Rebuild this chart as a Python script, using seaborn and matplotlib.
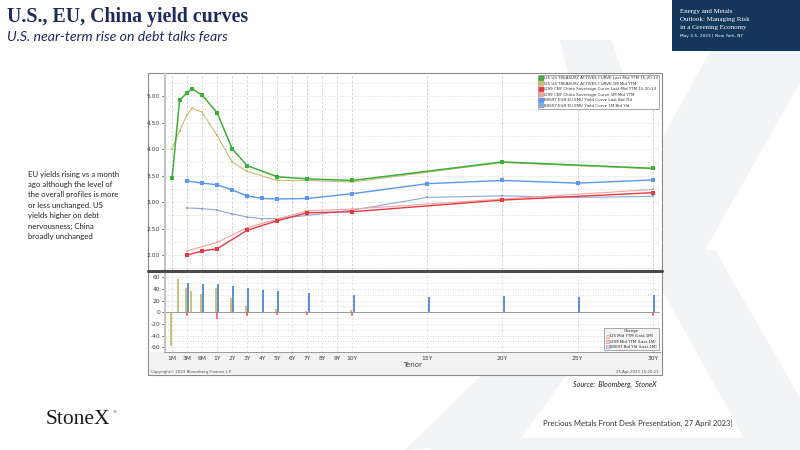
import numpy as np
import pandas as pd
import matplotlib
matplotlib.use("Agg")
import matplotlib.pyplot as plt
import matplotlib.transforms as mtransforms
from matplotlib.patches import Rectangle, Polygon
from matplotlib.lines import Line2D
import seaborn as sns

# ---------------- data ----------------
tenor_labels = ["1M", "3M", "6M", "1Y", "2Y", "3Y", "4Y", "5Y", "6Y", "7Y", "8Y",
                "9Y", "10Y", "15Y", "20Y", "25Y", "30Y"]
tenor_ticks = [1/12, 0.25, 0.5, 1, 2, 3, 4, 5, 6, 7, 8, 9, 10, 15, 20, 25, 30]

us_tenors = [1/12, 2/12, 3/12, 4/12, 0.5, 1, 2, 3, 5, 7, 10, 20, 30]
us_last = [3.45, 4.92, 5.07, 5.14, 5.02, 4.69, 4.01, 3.69, 3.48, 3.44, 3.41, 3.76, 3.64]
us_1m = [4.01, 4.35, 4.65, 4.77, 4.70, 4.26, 3.76, 3.58, 3.41, 3.41, 3.38, 3.75, 3.63]

cn_last_tenors = [0.25, 0.5, 1, 3, 5, 7, 10, 20, 30]
cn_last = [2.00, 2.08, 2.12, 2.47, 2.65, 2.80, 2.82, 3.04, 3.18]
cn_1m_tenors = [0.25, 1, 3, 5, 7, 10, 20, 30]
cn_1m = [2.08, 2.24, 2.52, 2.68, 2.84, 2.87, 3.06, 3.24]

eu_tenors = [0.25, 0.5, 1, 2, 3, 4, 5, 7, 10, 15, 20, 25, 30]
eu_last = [3.40, 3.36, 3.33, 3.23, 3.12, 3.07, 3.06, 3.07, 3.16, 3.35, 3.41, 3.36, 3.42]
eu_1m = [2.89, 2.88, 2.85, 2.78, 2.72, 2.69, 2.69, 2.75, 2.85, 3.09, 3.12, 3.09, 3.11]

us_chg_tenors = [1/12, 2/12, 0.25, 4/12, 0.5, 1, 2, 3, 5, 7, 10, 20]
us_chg = [-57, 57, 42, 36, 31, 42, 25, 11, 6, 3, 4, -1]
cn_chg_tenors = [0.25, 1, 3, 5, 7, 10, 30]
cn_chg = [-7, -12, -6, -5, -5, -6, -7]
eu_chg_tenors = [0.25, 0.5, 1, 2, 3, 4, 5, 7, 10, 15, 20, 25, 30]
eu_chg = [50, 49, 49, 45, 41, 38, 36, 33, 30, 26, 28, 26, 30]

legend_labels = ["I25 US TREASURY ACTIVES CURVE Last Mid YTM 15:20:13",
                 "I25 US TREASURY ACTIVES CURVE 1M Mid YTM",
                 "I299 CNY China Sovereign Curve Last Mid YTM 15:20:13",
                 "I299 CNY China Sovereign Curve 1M Mid YTM",
                 "B0697 EUR EU EMU Yield Curve Last Bid Yld",
                 "B0697 EUR EU EMU Yield Curve 1M Bid Yld"]
change_labels = ["I25 Mid YTM (Last-1M)", "I299 Mid YTM (Last-1M)", "B0697 Bid Yld (Last-1M)"]

left_note = ["EU yields rising vs a month", "ago although the level of",
             "the overall profiles is more", "or less unchanged. US",
             "yields higher on debt", "nervousness; China", "broadly unchanged"]

# ---------------- styles ----------------
C_GREEN = "#3DAE3A"
C_TAN = "#C9BB78"
C_RED = "#E8393F"
C_PINK = "#F2A3A6"
C_BLUE = "#5B97EE"
C_LBLUE = "#8CA9D6"
BAR_US = "#BDAE55"
BAR_CN = "#F05050"
BAR_EU = "#3F7BCB"
NAVY = "#1F2A5C"
GRID = "#CFCFCF"
TXT = "#404040"

sns.set_theme(style="white")
plt.rcParams["font.family"] = ["DejaVu Sans"]

W, H = 800, 450
fig = plt.figure(figsize=(8, 4.5), dpi=100)
fig.patch.set_facecolor("white")


def fx(px):
    return px / W


def fy(py):
    return 1 - py / H


def fpoly(pts, color):
    fig.patches.append(Polygon([(fx(a), fy(b)) for a, b in pts], closed=True,
                               transform=fig.transFigure, facecolor=color,
                               edgecolor="none", zorder=0))


# watermark X (very light grey)
wm = "#F3F4F6"
fpoly([(600, 250), (705, 250), (830, 30), (722, 30)], wm)        # upper-right arm
fpoly([(560, 40), (612, 40), (680, 250), (610, 250)], wm)        # upper-left arm
fpoly([(610, 250), (655, 250), (520, 440), (405, 450)], wm)      # lower-left leg
fpoly([(640, 250), (715, 250), (830, 450), (745, 440)], wm)      # lower-right leg
fpoly([(440, 438), (800, 438), (800, 450), (430, 450)], wm)      # base

# chart frame
fig.patches.append(Rectangle((fx(148), fy(375)), fx(662) - fx(148), fy(72.7) - fy(375),
                             transform=fig.transFigure, facecolor="white", edgecolor="#8A8A8A",
                             lw=0.8, zorder=1))
fig.patches.append(Rectangle((fx(148.5), fy(374.5)), fx(661.5) - fx(148.5), fy(352) - fy(374.5),
                             transform=fig.transFigure, facecolor="#F2F2F2", edgecolor="none", zorder=1))

# ---------------- tenor scale ----------------
_knot_yr = np.array([-1.0, 1/12, 0.25, 0.5, 1.0, 100.0])
_knot_pos = np.array([-2 - (1 + 1/12) * 6, -2.0, -1.0, 0.0, 1.0, 100.0])


def fwd(v):
    return np.interp(np.asarray(v, dtype=float), _knot_yr, _knot_pos)


def inv(p):
    return np.interp(np.asarray(p, dtype=float), _knot_pos, _knot_yr)


xlo, xhi = float(inv(-2.47)), float(inv(30.49))

ax1 = fig.add_axes([fx(165), fy(270), fx(660) - fx(165), fy(74) - fy(270)])
ax2 = fig.add_axes([fx(165), fy(351.7), fx(660) - fx(165), fy(273) - fy(351.7)])
for ax in (ax1, ax2):
    ax.set_zorder(2)
    ax.set_facecolor("white")
    ax.set_xscale("function", functions=(fwd, inv))

# ---------------- upper panel: curves ----------------
rows = []
for name, ts, vs in [("us_last", us_tenors, us_last), ("us_1m", us_tenors, us_1m),
                     ("cn_last", cn_last_tenors, cn_last), ("cn_1m", cn_1m_tenors, cn_1m),
                     ("eu_last", eu_tenors, eu_last), ("eu_1m", eu_tenors, eu_1m)]:
    for t, v in zip(ts, vs):
        rows.append({"series": name, "tenor": t, "yield": v})
df = pd.DataFrame(rows)

styles = {
    "us_last": (C_GREEN, 1.1, 2.4),
    "us_1m": (C_TAN, 0.8, 2.0),
    "cn_last": (C_RED, 1.0, 2.2),
    "cn_1m": (C_PINK, 0.8, 2.0),
    "eu_last": (C_BLUE, 1.0, 2.2),
    "eu_1m": (C_LBLUE, 0.8, 2.0),
}
draw_order = ["eu_1m", "cn_1m", "us_1m", "eu_last", "cn_last", "us_last"]
for s in draw_order:
    col, lw, ms = styles[s]
    sns.lineplot(data=df[df["series"] == s], x="tenor", y="yield", ax=ax1, color=col,
                 linewidth=lw, marker="s", markersize=ms, markeredgewidth=0, sort=True,
                 legend=False, zorder=3)

ax1.set_xlim(xlo, xhi)
ax1.set_ylim(1.72, 5.42)
ax1.set_yticks(np.arange(2.0, 5.01, 0.5))
ax1.set_yticklabels([f"{v:.2f}" for v in np.arange(2.0, 5.01, 0.5)])
ax1.set_yticks(np.arange(1.75, 5.42, 0.25), minor=True)
ax1.set_xticks(tenor_ticks)
ax1.set_xticklabels([])
ax1.xaxis.set_minor_locator(matplotlib.ticker.NullLocator())
ax1.grid(axis="y", which="both", color=GRID, lw=0.6, ls=(0, (1, 2)))
ax1.grid(axis="x", which="major", color=GRID, lw=0.6, ls=(0, (3, 2)))
ax1.tick_params(axis="y", which="major", labelsize=4.3, colors=TXT, length=2, width=0.6, pad=1.5, left=True)
ax1.tick_params(axis="y", which="minor", length=0)
ax1.tick_params(axis="x", length=0)
ax1.set_xlabel("")
ax1.set_ylabel("")
for sp in ("top", "right", "bottom"):
    ax1.spines[sp].set_visible(False)
ax1.spines["left"].set_color("#C4C4C4")
ax1.spines["left"].set_linewidth(1.6)

handles = [Line2D([], [], color=styles[s][0], marker="s", markersize=2.2, lw=0)
           for s in ["us_last", "us_1m", "cn_last", "cn_1m", "eu_last", "eu_1m"]]
leg = ax1.legend(handles, legend_labels, loc="upper right", fontsize=2.9, frameon=True,
                 borderaxespad=0.15, borderpad=0.4, handlelength=0.6, handletextpad=0.4,
                 labelspacing=0.38, fancybox=False, edgecolor="#9A9A9A", framealpha=1)
leg.get_frame().set_linewidth(0.6)
for t in leg.get_texts():
    t.set_color("#303030")

# ---------------- lower panel: changes ----------------
dpi = fig.dpi


def shifted(dx_px):
    return ax2.transData + mtransforms.ScaledTranslation(dx_px / dpi, 0, fig.dpi_scale_trans)


ax2.vlines(us_chg_tenors, 0, us_chg, colors=BAR_US, lw=1.1, transform=shifted(-1.2), zorder=3)
ax2.vlines(cn_chg_tenors, 0, cn_chg, colors=BAR_CN, lw=1.1, transform=shifted(0.0), zorder=3)
ax2.vlines(eu_chg_tenors, 0, eu_chg, colors=BAR_EU, lw=1.2, transform=shifted(1.3), zorder=3)
ax2.axhline(0, color="#9A9A9A", lw=0.7, zorder=2)

ax2.set_xlim(xlo, xhi)
ax2.set_ylim(-67.5, 67.4)
ax2.set_yticks(np.arange(-60, 61, 20))
ax2.set_yticklabels([f"{v:d}" for v in range(-60, 61, 20)])
ax2.set_yticks(np.arange(-60, 61, 10), minor=True)
ax2.set_xticks(tenor_ticks)
ax2.set_xticklabels(tenor_labels)
ax2.xaxis.set_minor_locator(matplotlib.ticker.NullLocator())
ax2.grid(axis="y", which="both", color=GRID, lw=0.6, ls=(0, (1, 2)))
ax2.grid(axis="x", which="major", color="#E2E2E2", lw=0.6, ls=(0, (3, 2)))
ax2.tick_params(axis="y", which="major", labelsize=4.3, colors=TXT, length=2, width=0.6, pad=1.5, left=True)
ax2.tick_params(axis="y", which="minor", length=0)
ax2.tick_params(axis="x", labelsize=4.3, colors=TXT, length=0, pad=3)
ax2.set_xlabel("Tenor", fontsize=5, color=TXT, labelpad=1.5)
ax2.xaxis.set_label_coords(0.5, -0.13)
ax2.set_ylabel("")
for sp in ("top", "right"):
    ax2.spines[sp].set_visible(False)
ax2.spines["left"].set_color("#C4C4C4")
ax2.spines["left"].set_linewidth(1.6)
ax2.spines["bottom"].set_color("#9A9A9A")
ax2.spines["bottom"].set_linewidth(0.7)

chg_handles = [Rectangle((0, 0), 1, 1, facecolor=c, edgecolor=e, lw=0.5)
               for c, e in [("#EFE9C8", "#C9BB78"), ("#F8D3D3", "#E88C8C"), ("#D5E2F5", "#8CA9D6")]]
leg2 = ax2.legend(chg_handles, change_labels, loc="lower right", fontsize=2.8, title="Change",
                  title_fontsize=2.8, frameon=True, borderaxespad=0.35, borderpad=0.4,
                  handlelength=0.8, handleheight=0.8, handletextpad=0.4, labelspacing=0.3,
                  fancybox=False, edgecolor="#9A9A9A", framealpha=1, facecolor="#F4F4F4")
leg2.get_frame().set_linewidth(0.6)

# separator between panels
fig.lines.append(Line2D([fx(148), fx(662)], [fy(271.3), fy(271.3)], transform=fig.transFigure,
                        color="#4A4A4A", lw=2.2, zorder=5))

fig.text(fx(151), fy(372), "Copyright\u00a9 2023 Bloomberg Finance L.P.", fontsize=2.8,
         color="#505050", va="center", ha="left", zorder=6)
fig.text(fx(659), fy(371.5), "25-Apr-2023 15:20:13", fontsize=2.8, color="#505050",
         va="center", ha="right", zorder=6)
fig.text(fx(573), fy(384), "Source:  Bloomberg,  StoneX", fontsize=5.1, color="#222222",
         style="italic", va="center", ha="left", family=["Lato", "DejaVu Sans"])

# ---------------- slide texts ----------------
fig.text(fx(7), fy(17), "U.S., EU, China yield curves", fontsize=14.3, weight="bold",
         color=NAVY, va="center", ha="left", family=["Liberation Serif", "DejaVu Serif"])
fig.text(fx(7), fy(37), "U.S. near-term rise on debt talks fears", fontsize=10.2, style="italic",
         color=NAVY, va="center", ha="left", family=["Lato", "DejaVu Sans"])

for i, line in enumerate(left_note):
    fig.text(fx(28), fy(174 + i * 10.4), line, fontsize=5.6, color="#222222", va="center",
             ha="left", family=["Lato", "DejaVu Sans"])

fig.text(fx(46), fy(419), "StoneX", fontsize=15.5, color="#1A1A1A", va="center", ha="left",
         family=["Liberation Serif", "DejaVu Serif"])
fig.text(fx(112), fy(412), "\u00ae", fontsize=3, color="#1A1A1A", va="center", ha="left")
fig.text(fx(543), fy(423), "Precious Metals Front Desk Presentation, 27 April 2023|", fontsize=5.5,
         color="#333333", va="center", ha="left", family=["Lato", "DejaVu Sans"])

# top-right event banner
fig.patches.append(Rectangle((fx(672), fy(51)), fx(800) - fx(672), fy(0) - fy(51),
                             transform=fig.transFigure, facecolor="#15375C", edgecolor="none", zorder=1))
axl = fig.add_axes([fx(752), fy(51), fx(800) - fx(752), fy(0) - fy(51)])
gx, gy = np.meshgrid(np.linspace(0, 1, 60), np.linspace(0, 1, 60))
glow = np.exp(-(((gx - 0.3) / 0.35) ** 2 + ((gy - 0.55) / 0.45) ** 2))
glow += 0.5 * np.exp(-(((gx - 0.85) / 0.2) ** 2 + ((gy - 0.8) / 0.25) ** 2))
axl.imshow(glow, cmap="afmhot", vmin=0, vmax=1.1, aspect="auto", interpolation="bilinear")
axl.set_axis_off()
for i, line in enumerate(["Energy and Metals", "Outlook: Managing Risk", "in a Greening Economy"]):
    fig.text(fx(680), fy(12 + i * 8), line, fontsize=5.0, color="white", va="center", ha="left",
             family=["Liberation Serif", "DejaVu Serif"], zorder=6)
fig.text(fx(680), fy(36.5), "May 3-5, 2023 | New York, NY", fontsize=3.1, color="white",
         va="center", ha="left", zorder=6)

fig.savefig("out.png", dpi=100)
